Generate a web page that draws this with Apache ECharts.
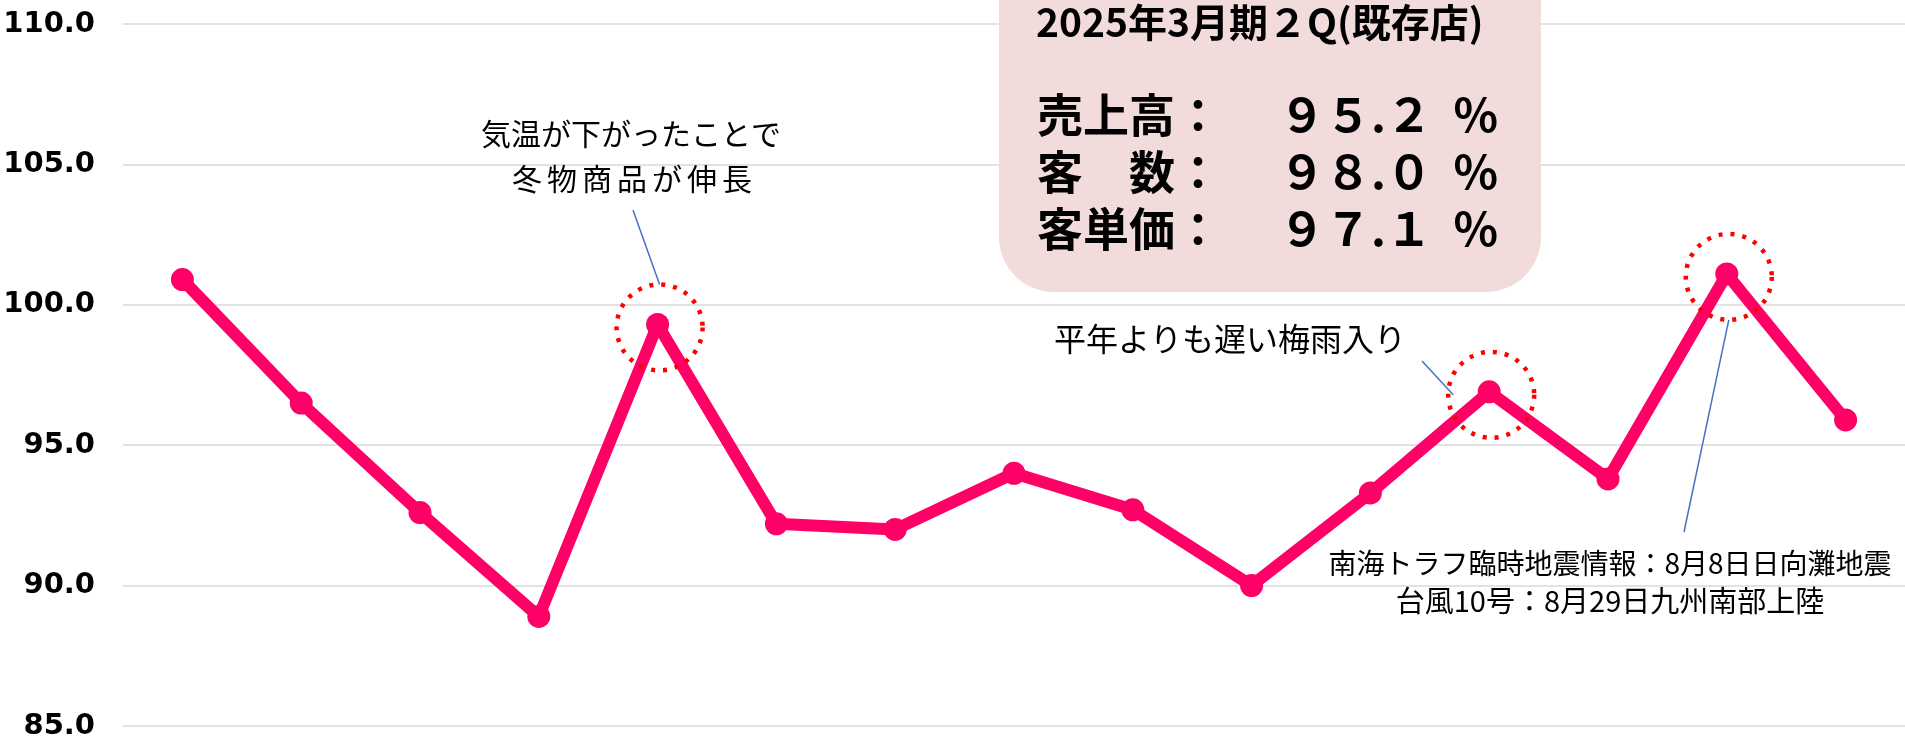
<!DOCTYPE html>
<html>
<head>
<meta charset="utf-8">
<script src="https://cdn.jsdelivr.net/npm/echarts@6/dist/echarts.min.js"></script>
<style>
html,body{margin:0;padding:0;background:#fff;}
#main{width:1905px;height:741px;}
</style>
</head>
<body>
<div id="main"></div>
<script>
// 既存店 売上高前年比（月次）
var months = ['2023年7月','2023年8月','2023年9月','2023年10月','2023年11月','2023年12月','2024年1月','2024年2月',
    '2024年3月','2024年4月','2024年5月','2024年6月','2024年7月','2024年8月','2024年9月'];
var salesRatio = [100.9, 96.5, 92.6, 88.9, 99.3, 92.2, 92.0, 94.0, 92.7, 90.0, 93.3, 96.9, 93.8, 101.1, 95.9];
var yMin = 85, yMax = 110, yStep = 5;

var boxTitle = '2025年3月期２Q(既存店)';
var boxLabels = ['売上高：', '客　数：', '客単価：'];
var boxValues = ['９５.２  ％', '９８.０  ％', '９７.１  ％'];

// 注記をつける月（index）
var noteIndex = [4, 11, 13];
var noteText1 = ['気温が下がったことで', '冬\u2006物\u2006商\u2006品\u2006が\u2006伸\u2006長'];
var noteText2 = '平年よりも遅い梅雨入り';
var noteText3 = ['南海トラフ臨時地震情報：8月8日日向灘地震', '台風10号：8月29日九州南部上陸'];

var jp = '"Noto Sans CJK JP", sans-serif';
var myChart = echarts.init(document.getElementById('main'));

var option = {
    animation: false,
    backgroundColor: '#fff',
    grid: {
        left: 123,
        right: 0,
        top: 24,
        bottom: 15,
        containLabel: false,
        outerBoundsMode: 'none'
    },
    xAxis: {
        type: 'category',
        data: months,
        boundaryGap: true,
        axisLine: {show: false},
        axisTick: {show: false},
        axisLabel: {show: false},
        splitLine: {show: false}
    },
    yAxis: {
        type: 'value',
        min: yMin,
        max: yMax,
        interval: yStep,
        axisLine: {show: false},
        axisTick: {show: false},
        axisLabel: {
            margin: 28,
            color: '#000',
            fontFamily: '"DejaVu Sans", sans-serif',
            fontWeight: 'bold',
            fontSize: 29,
            formatter: function (v) { return v.toFixed(1); }
        },
        splitLine: {lineStyle: {color: '#D9D9D9', width: 1.5}}
    },
    series: [
        {
            name: '売上高',
            type: 'line',
            data: salesRatio,
            symbol: 'circle',
            symbolSize: 23,
            lineStyle: {color: '#FF0066', width: 12},
            itemStyle: {color: '#FF0066'},
            z: 3
        }
    ]
};
myChart.setOption(option);

function px(i) {
    return myChart.convertToPixel({xAxisIndex: 0, yAxisIndex: 0}, [i, salesRatio[i]]);
}

var graphics = [];

// ピンクの囲み
graphics.push({
    type: 'rect', z: 10,
    shape: {x: 999, y: -100, width: 542, height: 392, r: 55},
    style: {fill: '#F2DCDB'}
});
graphics.push({
    type: 'text', z: 11, x: 1036, y: 22,
    style: {text: boxTitle, font: 'bold 39px ' + jp, fill: '#000', textAlign: 'left', textVerticalAlign: 'middle'}
});
var rowY = [115, 172, 229];
for (var r = 0; r < boxLabels.length; r++) {
    graphics.push({
        type: 'text', z: 11, x: 1037, y: rowY[r],
        style: {text: boxLabels[r], font: 'bold 46px ' + jp, fill: '#000', textAlign: 'left', textVerticalAlign: 'middle'}
    });
    graphics.push({
        type: 'text', z: 11, x: 1279, y: rowY[r],
        style: {text: boxValues[r], font: 'bold 46px ' + jp, fill: '#000', textAlign: 'left', textVerticalAlign: 'middle'}
    });
}

// 点線の丸
var circ = [];
for (var k = 0; k < noteIndex.length; k++) {
    var p = px(noteIndex[k]);
    var c = [p[0] + 2, p[1] + 3];
    circ.push(c);
    graphics.push({
        type: 'circle', z: 12,
        shape: {cx: c[0], cy: c[1], r: 43},
        style: {fill: 'none', stroke: '#FF0000', lineWidth: 4.5, lineDash: [4, 8]}
    });
}

// 引き出し線
var rad = 43;
graphics.push({
    type: 'line', z: 12,
    shape: {x1: 633, y1: 210, x2: circ[0][0], y2: circ[0][1] - rad},
    style: {stroke: '#4472C4', lineWidth: 1.5}
});
graphics.push({
    type: 'line', z: 12,
    shape: {x1: 1422, y1: 361, x2: circ[1][0] - rad + 5, y2: circ[1][1]},
    style: {stroke: '#4472C4', lineWidth: 1.5}
});
graphics.push({
    type: 'line', z: 12,
    shape: {x1: circ[2][0], y1: circ[2][1] + rad, x2: 1684, y2: 532},
    style: {stroke: '#4472C4', lineWidth: 1.5}
});

// 注記テキスト
graphics.push({
    type: 'text', z: 12, x: 631, y: 134,
    style: {text: noteText1[0], font: '30px ' + jp, fill: '#000', textAlign: 'center', textVerticalAlign: 'middle'}
});
graphics.push({
    type: 'text', z: 12, x: 632, y: 179,
    style: {text: noteText1[1], font: '30px ' + jp, fill: '#000', textAlign: 'center', textVerticalAlign: 'middle'}
});
graphics.push({
    type: 'text', z: 12, x: 1230, y: 339,
    style: {text: noteText2, font: '32px ' + jp, fill: '#000', textAlign: 'center', textVerticalAlign: 'middle'}
});
graphics.push({
    type: 'text', z: 12, x: 1610, y: 563,
    style: {text: noteText3[0], font: '28px ' + jp, fill: '#000', textAlign: 'center', textVerticalAlign: 'middle'}
});
graphics.push({
    type: 'text', z: 12, x: 1610, y: 601,
    style: {text: noteText3[1], font: '29px ' + jp, fill: '#000', textAlign: 'center', textVerticalAlign: 'middle'}
});

myChart.setOption({graphic: graphics});
</script>
</body>
</html>
